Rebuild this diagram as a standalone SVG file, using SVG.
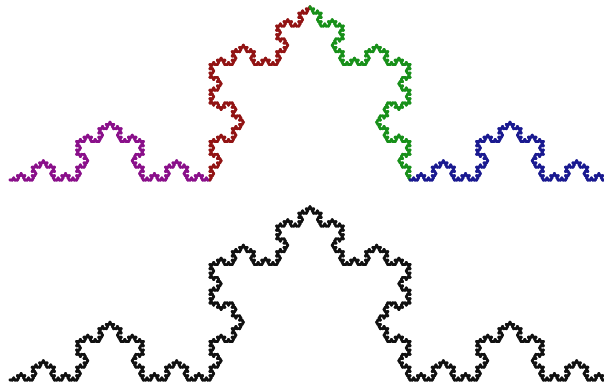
<svg xmlns="http://www.w3.org/2000/svg" xmlns:xlink="http://www.w3.org/1999/xlink" width="604" height="385" viewBox="0 0 604 385">
<style>
.seg{fill:none;stroke-width:2.8;stroke-linecap:round;vector-effect:non-scaling-stroke}
</style>
<defs>
<line id="k0" class="seg" x1="0" y1="0" x2="1" y2="0"/>
<g id="k1">
<use href="#k0" transform="scale(0.333333)"/>
<use href="#k0" transform="translate(0.333333,0) rotate(-60) scale(0.333333)"/>
<use href="#k0" transform="translate(0.5,-0.288675) rotate(60) scale(0.333333)"/>
<use href="#k0" transform="translate(0.666667,0) scale(0.333333)"/>
</g>
<g id="k2">
<use href="#k1" transform="scale(0.333333)"/>
<use href="#k1" transform="translate(0.333333,0) rotate(-60) scale(0.333333)"/>
<use href="#k1" transform="translate(0.5,-0.288675) rotate(60) scale(0.333333)"/>
<use href="#k1" transform="translate(0.666667,0) scale(0.333333)"/>
</g>
<g id="k3">
<use href="#k2" transform="scale(0.333333)"/>
<use href="#k2" transform="translate(0.333333,0) rotate(-60) scale(0.333333)"/>
<use href="#k2" transform="translate(0.5,-0.288675) rotate(60) scale(0.333333)"/>
<use href="#k2" transform="translate(0.666667,0) scale(0.333333)"/>
</g>
<g id="k4">
<use href="#k3" transform="scale(0.333333)"/>
<use href="#k3" transform="translate(0.333333,0) rotate(-60) scale(0.333333)"/>
<use href="#k3" transform="translate(0.5,-0.288675) rotate(60) scale(0.333333)"/>
<use href="#k3" transform="translate(0.666667,0) scale(0.333333)"/>
</g>
</defs>
<g id="top">
<use href="#k4" stroke="#8a108a" transform="translate(10,180) scale(200)"/>
<use href="#k4" stroke="#921414" transform="translate(210,180) rotate(-60) scale(200)"/>
<use href="#k4" stroke="#18901a" transform="translate(310,6.79) rotate(60) scale(200)"/>
<use href="#k4" stroke="#1a1a90" transform="translate(410,180) scale(200)"/>
</g>
<g id="bottom" stroke="#111111">
<use href="#k4" transform="translate(10,380) scale(200)"/>
<use href="#k4" transform="translate(210,380) rotate(-60) scale(200)"/>
<use href="#k4" transform="translate(310,206.79) rotate(60) scale(200)"/>
<use href="#k4" transform="translate(410,380) scale(200)"/>
</g>
</svg>
